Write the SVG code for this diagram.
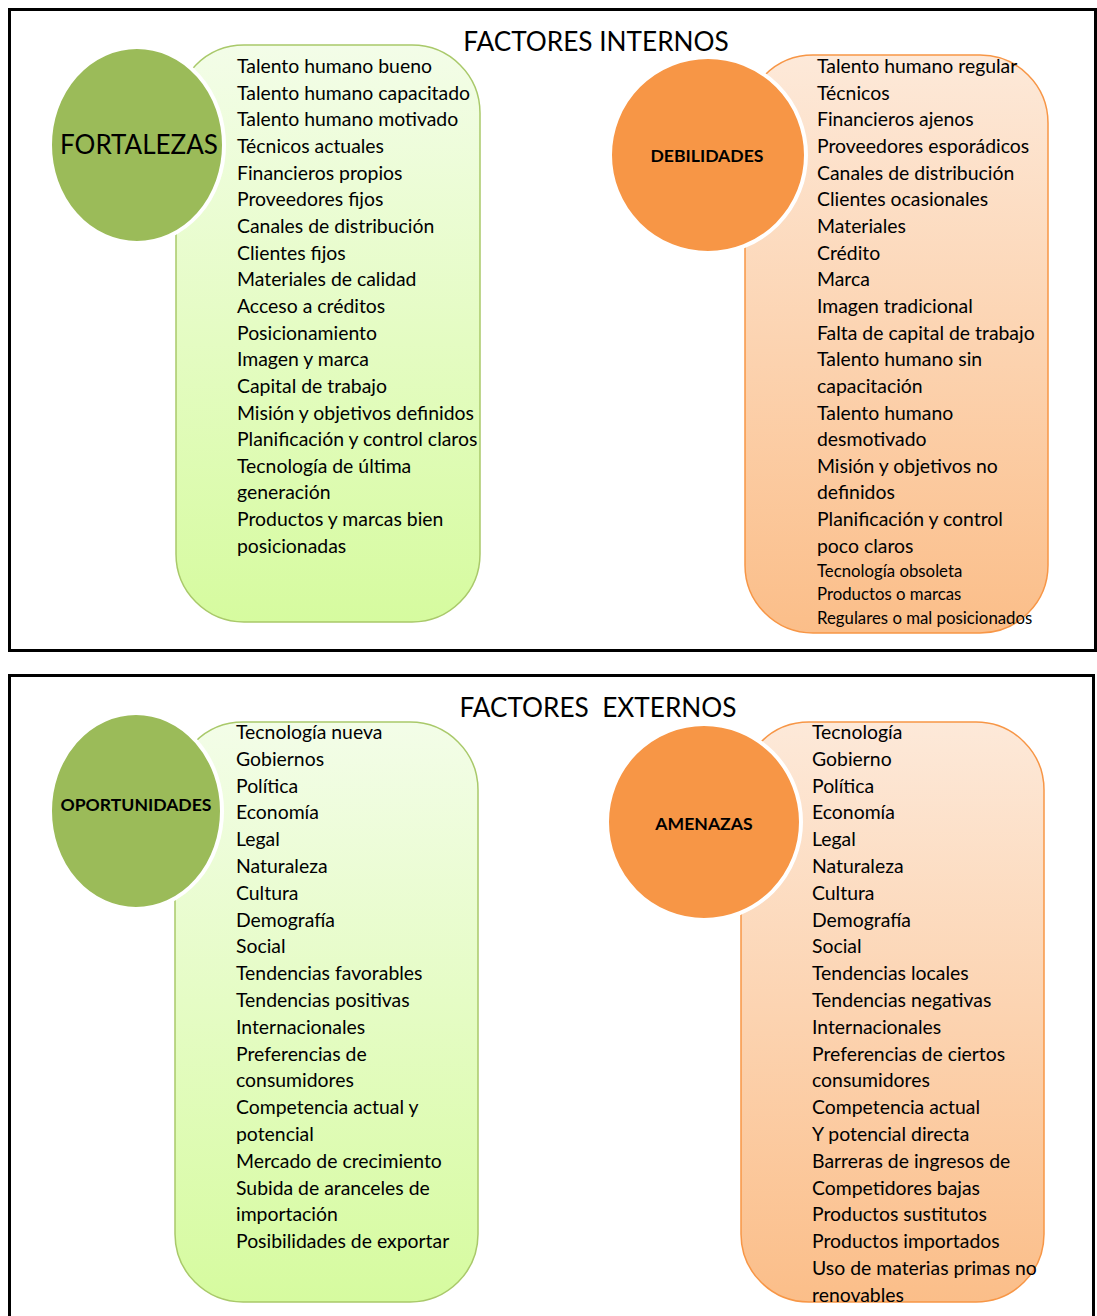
<svg xmlns="http://www.w3.org/2000/svg" width="1097" height="1316" viewBox="0 0 1097 1316">
<style>
.frame{fill:#fff;stroke:#000;stroke-width:3}
.title{font-family:Lato,"Liberation Sans",sans-serif;font-size:26.2px;fill:#000}
.item{font-family:Lato,"Liberation Sans",sans-serif;font-size:19.4px;fill:#000}
.small{font-family:Lato,"Liberation Sans",sans-serif;font-size:16.8px;fill:#000}
.lbl{font-family:Lato,"Liberation Sans",sans-serif;font-size:17.6px;font-weight:bold;fill:#000;text-anchor:middle}
.big{font-family:Lato,"Liberation Sans",sans-serif;font-size:26px;fill:#000;text-anchor:middle}
.grect{fill:url(#gg);stroke:#a9c96a;stroke-width:1.5}
.orect{fill:url(#og);stroke:#f79646;stroke-width:1.5}
.gc{fill:#9bbb59;stroke:#fff;stroke-width:4}
.oc{fill:#f79646;stroke:#fff;stroke-width:4}
</style>
<defs>
<linearGradient id="gg" x1="0" y1="0" x2="0" y2="1"><stop offset="0" stop-color="#f3fde8"/><stop offset="1" stop-color="#d6fb9f"/></linearGradient>
<linearGradient id="og" x1="0" y1="0" x2="0" y2="1"><stop offset="0" stop-color="#fde9d9"/><stop offset="1" stop-color="#fbbe89"/></linearGradient>
</defs>
<rect width="1097" height="1316" fill="#fff"/>
<rect class="frame" x="9.5" y="9.5" width="1086" height="641"/>
<rect class="frame" x="9.5" y="675.5" width="1084" height="660"/>
<text class="title" x="596" y="51" text-anchor="middle">FACTORES INTERNOS</text>
<text class="title" x="598" y="717" text-anchor="middle" xml:space="preserve">FACTORES  EXTERNOS</text>

<g id="fortalezas">
<rect class="grect" x="176" y="45" width="304" height="577" rx="68"/>
<ellipse class="gc" cx="137" cy="145" rx="87" ry="98"/>
<text class="big" x="139" y="154">FORTALEZAS</text>
<g class="item">
<text x="237" y="73">Talento humano bueno</text>
<text x="237" y="100">Talento humano capacitado</text>
<text x="237" y="126">Talento humano motivado</text>
<text x="237" y="153">Técnicos actuales</text>
<text x="237" y="180">Financieros propios</text>
<text x="237" y="206">Proveedores fijos</text>
<text x="237" y="233">Canales de distribución</text>
<text x="237" y="260">Clientes fijos</text>
<text x="237" y="286">Materiales de calidad</text>
<text x="237" y="313">Acceso a créditos</text>
<text x="237" y="340">Posicionamiento</text>
<text x="237" y="366">Imagen y marca</text>
<text x="237" y="393">Capital de trabajo</text>
<text x="237" y="420">Misión y objetivos definidos</text>
<text x="237" y="446">Planificación y control claros</text>
<text x="237" y="473">Tecnología de última</text>
<text x="237" y="499">generación</text>
<text x="237" y="526">Productos y marcas bien</text>
<text x="237" y="553">posicionadas</text>
</g>
</g>

<g id="debilidades">
<rect class="orect" x="745" y="55" width="303" height="578" rx="68"/>
<ellipse class="oc" cx="708" cy="155" rx="98" ry="98"/>
<text class="lbl" x="707" y="162">DEBILIDADES</text>
<g class="item">
<text x="817" y="73">Talento humano regular</text>
<text x="817" y="100">Técnicos</text>
<text x="817" y="126">Financieros ajenos</text>
<text x="817" y="153">Proveedores esporádicos</text>
<text x="817" y="180">Canales de distribución</text>
<text x="817" y="206">Clientes ocasionales</text>
<text x="817" y="233">Materiales</text>
<text x="817" y="260">Crédito</text>
<text x="817" y="286">Marca</text>
<text x="817" y="313">Imagen tradicional</text>
<text x="817" y="340">Falta de capital de trabajo</text>
<text x="817" y="366">Talento humano sin</text>
<text x="817" y="393">capacitación</text>
<text x="817" y="420">Talento humano</text>
<text x="817" y="446">desmotivado</text>
<text x="817" y="473">Misión y objetivos no</text>
<text x="817" y="499">definidos</text>
<text x="817" y="526">Planificación y control</text>
<text x="817" y="553">poco claros</text>
</g>
<g class="small">
<text x="817" y="577">Tecnología obsoleta</text>
<text x="817" y="600">Productos o marcas</text>
<text x="817" y="624">Regulares o mal posicionados</text>
</g>
</g>

<g id="oportunidades">
<rect class="grect" x="175" y="722" width="303" height="580" rx="68"/>
<ellipse class="gc" cx="136" cy="811" rx="86" ry="98"/>
<text class="lbl" x="136" y="811">OPORTUNIDADES</text>
<g class="item">
<text x="236" y="739">Tecnología nueva</text>
<text x="236" y="766">Gobiernos</text>
<text x="236" y="793">Política</text>
<text x="236" y="819">Economía</text>
<text x="236" y="846">Legal</text>
<text x="236" y="873">Naturaleza</text>
<text x="236" y="900">Cultura</text>
<text x="236" y="927">Demografía</text>
<text x="236" y="953">Social</text>
<text x="236" y="980">Tendencias favorables</text>
<text x="236" y="1007">Tendencias positivas</text>
<text x="236" y="1034">Internacionales</text>
<text x="236" y="1061">Preferencias de</text>
<text x="236" y="1087">consumidores</text>
<text x="236" y="1114">Competencia actual y</text>
<text x="236" y="1141">potencial</text>
<text x="236" y="1168">Mercado de crecimiento</text>
<text x="236" y="1195">Subida de aranceles de</text>
<text x="236" y="1221">importación</text>
<text x="236" y="1248">Posibilidades de exportar</text>
</g>
</g>

<g id="amenazas">
<rect class="orect" x="741" y="722" width="303" height="580" rx="68"/>
<ellipse class="oc" cx="704" cy="822" rx="97" ry="98"/>
<text class="lbl" x="704" y="830">AMENAZAS</text>
<g class="item">
<text x="812" y="739">Tecnología</text>
<text x="812" y="766">Gobierno</text>
<text x="812" y="793">Política</text>
<text x="812" y="819">Economía</text>
<text x="812" y="846">Legal</text>
<text x="812" y="873">Naturaleza</text>
<text x="812" y="900">Cultura</text>
<text x="812" y="927">Demografía</text>
<text x="812" y="953">Social</text>
<text x="812" y="980">Tendencias locales</text>
<text x="812" y="1007">Tendencias negativas</text>
<text x="812" y="1034">Internacionales</text>
<text x="812" y="1061">Preferencias de ciertos</text>
<text x="812" y="1087">consumidores</text>
<text x="812" y="1114">Competencia actual</text>
<text x="812" y="1141">Y potencial directa</text>
<text x="812" y="1168">Barreras de ingresos de</text>
<text x="812" y="1195">Competidores bajas</text>
<text x="812" y="1221">Productos sustitutos</text>
<text x="812" y="1248">Productos importados</text>
<text x="812" y="1275">Uso de materias primas no</text>
<text x="812" y="1302">renovables</text>
</g>
</g>
<g id="connectors"/>
</svg>
